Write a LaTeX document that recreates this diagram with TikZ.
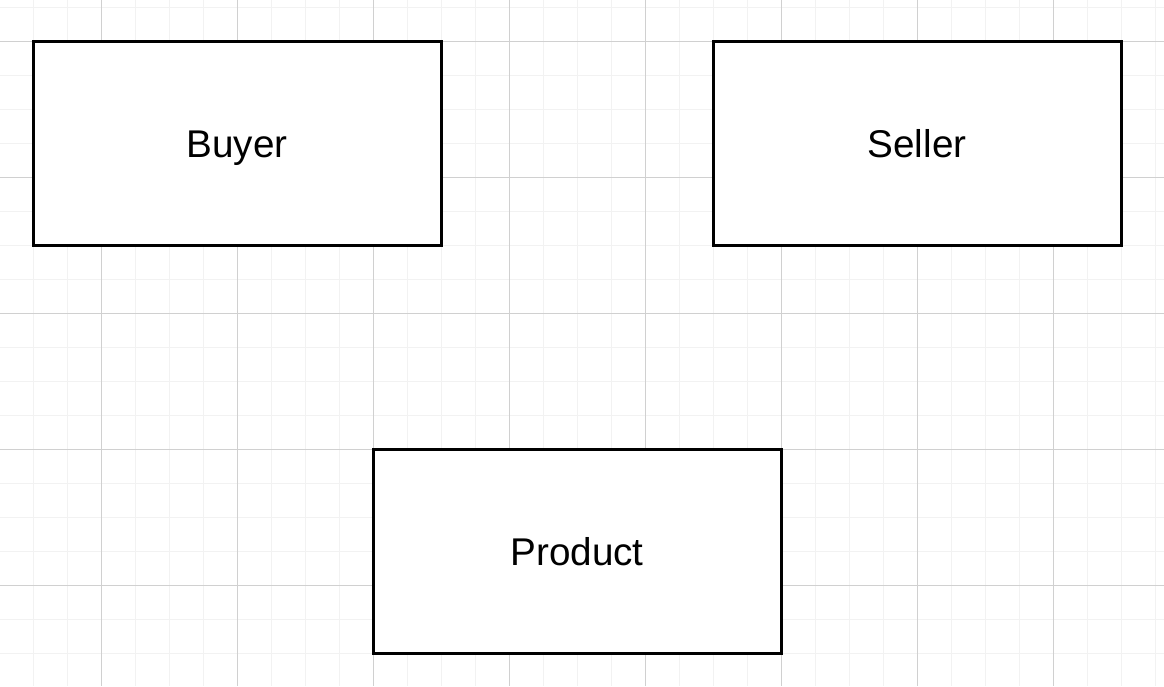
\documentclass[tikz,border=0pt]{standalone}
\usepackage{fontspec}
\setmainfont{Liberation Sans}
\definecolor{minorgrid}{HTML}{F2F2F2}
\definecolor{majorgrid}{HTML}{D0D0D0}
\begin{document}
\begin{tikzpicture}[x=0.75pt,y=-0.75pt,
  entity/.style={draw=black, fill=white, line width=2.25pt, minimum width=306pt, minimum height=153pt,
    inner sep=0pt, text height=21pt, text depth=0pt, font=\fontsize{29pt}{34pt}\selectfont}]
\useasboundingbox (0,0) rectangle (1164,686);
\fill[white] (0,0) rectangle (1164,686);
% minor grid
\foreach \k in {0,...,33} {\draw[minorgrid, line width=0.75pt] ({33+34*\k},0) -- ({33+34*\k},686);}
\foreach \k in {0,...,20} {\draw[minorgrid, line width=0.75pt] (0,{7+34*\k}) -- (1164,{7+34*\k});}
% major grid
\foreach \j in {0,...,7} {\draw[majorgrid, line width=0.75pt] ({101+136*\j},0) -- ({101+136*\j},686);}
\foreach \j in {0,...,4} {\draw[majorgrid, line width=0.75pt] (0,{41+136*\j}) -- (1164,{41+136*\j});}
% entities
\node[entity] (buyer) at (237,143) {Buyer};
\node[entity] (seller) at (917,143) {Seller};
\node[entity] (product) at (577,551) {Product};
\end{tikzpicture}
\end{document}
